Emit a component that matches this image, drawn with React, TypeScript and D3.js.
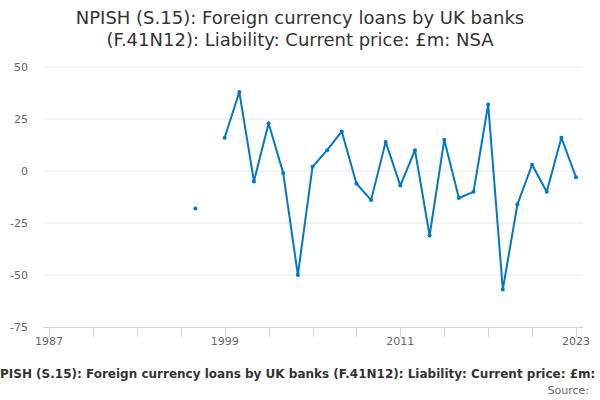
import { useEffect, useRef } from 'react'
import * as d3 from 'd3'

// Annual values, £m. 1998 is missing, so 1997 stands alone.
const years = [1997, 1999, 2000, 2001, 2002, 2003, 2004, 2005, 2006, 2007, 2008, 2009, 2010,
  2011, 2012, 2013, 2014, 2015, 2016, 2017, 2018, 2019, 2020, 2021, 2022, 2023]
const values = [-18, 16, 38, -5, 23, -1, -50, 2, 10, 19, -6, -14, 14,
  -7, 10, -31, 15, -13, -10, 32, -57, -16, 3, -10, 16, -3]
const yTicks = [50, 25, 0, -25, -50, -75]
const xTickYears = d3.range(1987, 2024, 3)
const xLabelYears = [1987, 1999, 2011, 2023]

const TITLE = ['NPISH (S.15): Foreign currency loans by UK banks', '(F.41N12): Liability: Current price: £m: NSA']
const CAPTION = 'NPISH (S.15): Foreign currency loans by UK banks (F.41N12): Liability: Current price: £m: NSA'

const W = 600
const H = 400
const PLOT = { left: 43, right: 583, top: 67, bottom: 327 }
const FONT = '"DejaVu Sans", sans-serif'
const BLUE = '#0077c8'

type Pt = { yr: number; v: number }

export default function App() {
  const svgRef = useRef<SVGSVGElement>(null)

  useEffect(() => {
    if (!svgRef.current) return
    const svg = d3.select(svgRef.current)
    svg.selectAll('*').remove()

    const x = d3.scaleLinear().domain([1987, 2023]).range([49, 576])
    const y = d3.scaleLinear().domain([-75, 50]).range([PLOT.bottom, PLOT.top])

    // Title
    svg.append('g').selectAll('text').data(TITLE).join('text')
      .attr('x', W / 2).attr('y', (_d, i) => 24 + i * 22)
      .attr('text-anchor', 'middle')
      .attr('font-family', FONT).attr('font-size', 18).attr('fill', '#333333')
      .text(d => d)

    // Gridlines
    svg.append('g').selectAll('line').data(yTicks.filter(t => t !== -75)).join('line')
      .attr('x1', PLOT.left).attr('x2', PLOT.right)
      .attr('y1', d => y(d)).attr('y2', d => y(d))
      .attr('stroke', '#e6e6e6').attr('stroke-width', 1)

    // Y labels
    svg.append('g').selectAll('text').data(yTicks).join('text')
      .attr('x', 28).attr('y', d => y(d) + 4)
      .attr('text-anchor', 'end')
      .attr('font-family', FONT).attr('font-size', 11).attr('fill', '#666666')
      .text(d => d)

    // X axis line and ticks
    svg.append('line')
      .attr('x1', PLOT.left).attr('x2', PLOT.right)
      .attr('y1', PLOT.bottom + 0.5).attr('y2', PLOT.bottom + 0.5)
      .attr('stroke', '#ccd6eb')
    svg.append('g').selectAll('line').data(xTickYears).join('line')
      .attr('x1', d => Math.round(x(d)) + 0.5).attr('x2', d => Math.round(x(d)) + 0.5)
      .attr('y1', PLOT.bottom).attr('y2', PLOT.bottom + 10)
      .attr('stroke', '#ccd6eb')
    svg.append('g').selectAll('text').data(xLabelYears).join('text')
      .attr('x', d => x(d)).attr('y', PLOT.bottom + 18)
      .attr('text-anchor', 'middle')
      .attr('font-family', FONT).attr('font-size', 11).attr('fill', '#666666')
      .text(d => d)

    // Series line: break where a year is missing
    const pts: Pt[] = years.map((yr, i) => ({ yr, v: values[i] }))
    const segments: Pt[][] = []
    pts.forEach((p, i) => {
      if (i === 0 || p.yr - pts[i - 1].yr > 1) segments.push([p])
      else segments[segments.length - 1].push(p)
    })
    const line = d3.line<Pt>().x(d => x(d.yr)).y(d => y(d.v))
    svg.append('g').selectAll('path').data(segments.filter(s => s.length > 1)).join('path')
      .attr('d', line)
      .attr('fill', 'none').attr('stroke', BLUE).attr('stroke-width', 2)
      .attr('stroke-linejoin', 'round')

    svg.append('g').selectAll('circle').data(pts).join('circle')
      .attr('cx', d => x(d.yr)).attr('cy', d => y(d.v))
      .attr('r', 2).attr('fill', BLUE)

    // Caption (runs off both edges) and source
    const cap = svg.append('text')
      .attr('x', 0).attr('y', 378)
      .attr('font-family', FONT).attr('font-size', 12).attr('font-weight', 'bold').attr('fill', '#333333')
      .text(CAPTION)
    const node = cap.node() as SVGTextElement
    let nW = 10
    try { nW = node.getSubStringLength(0, 1) } catch (e) { /* keep default */ }
    cap.attr('x', -nW)
    svg.append('text')
      .attr('x', 589).attr('y', 394)
      .attr('text-anchor', 'end')
      .attr('font-family', FONT).attr('font-size', 11).attr('fill', '#666666')
      .text('Source: ')
  }, [])

  return (
    <svg ref={svgRef} width={W} height={H}
      style={{ position: 'absolute', left: 0, top: 0, background: '#ffffff', display: 'block' }} />
  )
}
